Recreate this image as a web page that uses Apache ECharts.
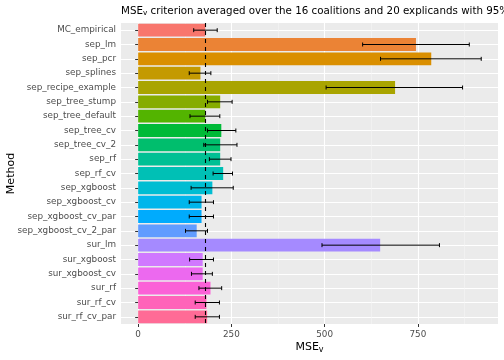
<!DOCTYPE html>
<html><head><meta charset="utf-8">
<script src="https://cdn.jsdelivr.net/npm/echarts@6/dist/echarts.min.js"></script>
<style>html,body{margin:0;padding:0;background:#fff}#c{width:504px;height:360px}</style>
</head><body><div id="c"></div>
<script>
const methods = ["MC_empirical","sep_lm","sep_pcr","sep_splines","sep_recipe_example","sep_tree_stump","sep_tree_default","sep_tree_cv","sep_tree_cv_2","sep_rf","sep_rf_cv","sep_xgboost","sep_xgboost_cv","sep_xgboost_cv_par","sep_xgboost_cv_2_par","sur_lm","sur_xgboost","sur_xgboost_cv","sur_rf","sur_rf_cv","sur_rf_cv_par"];
const meanMSE = [180,745,786,167,689,220,180,223,220,220,228,199,170,170,157,649,173,173,194,183,185];
const lowerCI = [149,602,650,137,504,186,139,186,176,191,201,142,137,137,127,493,138,143,163,153,153];
const upperCI = [212,888,920,195,870,252,219,262,265,249,253,255,202,202,186,808,202,199,224,218,218];
const xTicks = [0,250,500,750];
const xMinorTicks = [125,375,625,875];

// ggplot2 default hue palette (hcl, c=100, l=65)
function hcl2hex(h, c, l) {
  const hr = h * Math.PI / 180;
  const U = c * Math.cos(hr), V = c * Math.sin(hr);
  const Xn = 95.047, Yn = 100, Zn = 108.883;
  const den = Xn + 15 * Yn + 3 * Zn;
  const un = 4 * Xn / den, vn = 9 * Yn / den;
  const Y = l > 8 ? Yn * Math.pow((l + 16) / 116, 3) : Yn * l / 903.3;
  const u = U / (13 * l) + un, v = V / (13 * l) + vn;
  const X = 9.0 * Y * u / (4 * v);
  const Z = -X / 3 - 5 * Y + 3 * Y / v;
  const x = X / 100, y = Y / 100, z = Z / 100;
  let r = 3.240479 * x - 1.537150 * y - 0.498535 * z;
  let g = -0.969256 * x + 1.875992 * y + 0.041556 * z;
  let b = 0.055648 * x - 0.204043 * y + 1.057311 * z;
  const gam = t => t > 0.00304 ? 1.055 * Math.pow(t, 1 / 2.4) - 0.055 : 12.92 * t;
  const to = t => { t = Math.round(255 * gam(t)); t = Math.max(0, Math.min(255, t)); return t.toString(16).padStart(2, '0'); };
  return '#' + to(r) + to(g) + to(b);
}
const n = methods.length;
const palette = [];
for (let i = 0; i < n; i++) palette.push(hcl2hex(15 + i * 360 / n, 100, 65));

const xMin = -46, xMax = 965;
const errData = methods.map((m, i) => [lowerCI[i], upperCI[i], i]);

const chart = echarts.init(document.getElementById('c'), null, {renderer: 'canvas'});
chart.setOption({
  animation: false,
  backgroundColor: '#ffffff',
  textStyle: {fontFamily: 'DejaVu Sans'},
  title: {
    text: '{a|MSE}{s|v}{a| criterion averaged over the 16 coalitions and 20 explicands with 95% confidence}',
    left: 121, top: 5, padding: 0,
    textStyle: {
      fontWeight: 'normal',
      rich: {
        a: {fontSize: 10.3, color: '#000', fontWeight: 'normal', fontFamily: 'DejaVu Sans'},
        s: {fontSize: 7.3, color: '#000', fontWeight: 'normal', fontFamily: 'DejaVu Sans', padding: [5, 0, 0, 0]}
      }
    }
  },
  grid: {left: 121, right: 6, top: 23, bottom: 36, backgroundColor: '#EBEBEB', show: true, borderWidth: 0,
    containLabel: false, outerBoundsMode: 'none'},
  xAxis: [{
    type: 'value', min: xMin, max: xMax,
    name: '{a|MSE}{s|v}', nameLocation: 'middle', nameGap: 17, nameMoveOverlap: false,
    nameTextStyle: {rich: {
      a: {fontSize: 11, color: '#000', fontFamily: 'DejaVu Sans'},
      s: {fontSize: 8, color: '#000', fontFamily: 'DejaVu Sans', padding: [5, 0, 0, 0]}
    }},
    axisLine: {show: false},
    axisTick: {show: true, length: 3, customValues: xTicks, lineStyle: {color: '#333333', width: 1}},
    axisLabel: {show: true, customValues: xTicks, color: '#4D4D4D', fontSize: 8.8, margin: 6},
    splitLine: {show: true, lineStyle: {color: '#ffffff', width: 1.1}}
  }, {
    type: 'value', min: xMin, max: xMax, position: 'bottom',
    axisLine: {show: false},
    axisTick: {show: false, customValues: xMinorTicks},
    axisLabel: {show: false, customValues: xMinorTicks},
    splitLine: {show: true, lineStyle: {color: '#F5F5F5', width: 0.55}}
  }],
  yAxis: {
    type: 'category', data: methods, inverse: true,
    name: 'Method', nameLocation: 'middle', nameGap: 104, nameRotate: 90, nameMoveOverlap: false,
    nameTextStyle: {fontSize: 11, color: '#000', fontFamily: 'DejaVu Sans'},
    axisLine: {show: false},
    axisTick: {show: true, alignWithLabel: true, length: 3, lineStyle: {color: '#333333', width: 1}},
    axisLabel: {color: '#4D4D4D', fontSize: 8.8, margin: 5},
    splitLine: {show: true, alignWithLabel: true, lineStyle: {color: '#ffffff', width: 1.1}}
  },
  series: [{
    type: 'bar', xAxisIndex: 0, data: meanMSE, barCategoryGap: '10%',
    itemStyle: {color: p => palette[p.dataIndex]},
    z: 3,
    markLine: {
      silent: true, symbol: ['none', 'none'], label: {show: false},
      lineStyle: {color: '#000', type: [4, 4], width: 1.1},
      data: [{xAxis: meanMSE[0]}]
    }
  }, {
    type: 'custom', xAxisIndex: 0, data: errData, z: 5,
    encode: {x: [0, 1], y: 2},
    renderItem: (params, api) => {
      const lo = api.coord([api.value(0), api.value(2)]);
      const hi = api.coord([api.value(1), api.value(2)]);
      const h = 2;
      const st = {stroke: '#000', lineWidth: 1};
      return {type: 'group', children: [
        {type: 'line', shape: {x1: lo[0], y1: lo[1], x2: hi[0], y2: hi[1]}, style: st},
        {type: 'line', shape: {x1: lo[0], y1: lo[1] - h, x2: lo[0], y2: lo[1] + h}, style: st},
        {type: 'line', shape: {x1: hi[0], y1: hi[1] - h, x2: hi[0], y2: hi[1] + h}, style: st}
      ]};
    }
  }]
});
</script></body></html>
